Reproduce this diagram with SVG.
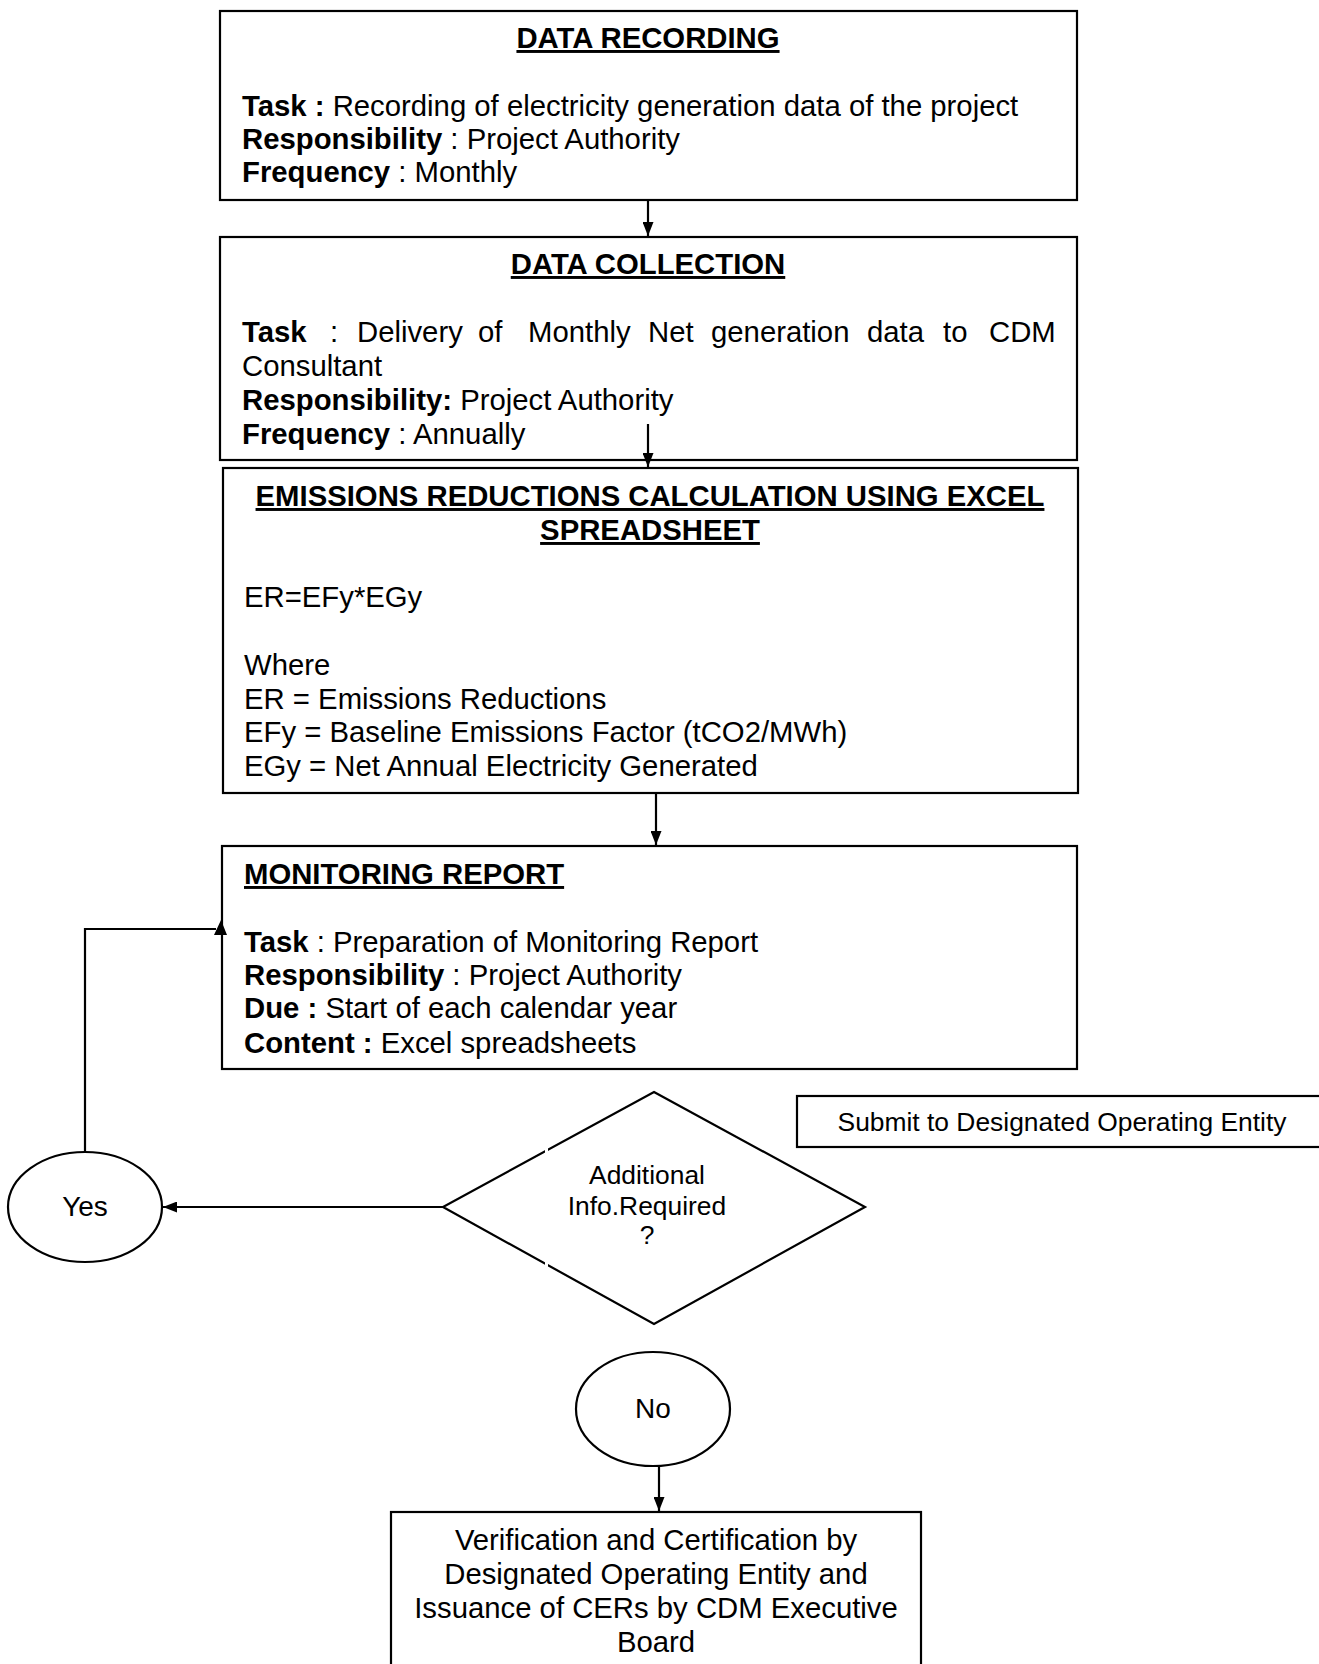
<svg xmlns="http://www.w3.org/2000/svg" width="1319" height="1664" viewBox="0 0 1319 1664">
<style>
  .box{fill:#fff;stroke:#000;stroke-width:2.2}
  .t{font-family:"Liberation Sans",Arial,sans-serif;font-size:29.3px;fill:#000}
  .s{font-family:"Liberation Sans",Arial,sans-serif;font-size:26.4px;fill:#000}
  .o{font-family:"Liberation Sans",Arial,sans-serif;font-size:28px;fill:#000}
  .b{font-weight:bold}
  .u{text-decoration:underline}
  .c{text-anchor:middle}
  .ln{fill:none;stroke:#000;stroke-width:2.2}
</style>
<defs>
  <marker id="ah" viewBox="0 0 10 10" refX="10" refY="5" markerWidth="14" markerHeight="11" orient="auto" markerUnits="userSpaceOnUse" preserveAspectRatio="none">
    <path d="M0,0 L10,5 L0,10 z" fill="#000"/>
  </marker>
</defs>
<rect width="1319" height="1664" fill="#fff"/>

<g id="node-recording">
  <rect class="box" x="220" y="11" width="857" height="189"/>
  <text class="t b u c" x="648" y="48">DATA RECORDING</text>
  <text class="t" x="242" y="116"><tspan class="b">Task :</tspan> Recording of electricity generation data of the project</text>
  <text class="t" x="242" y="149"><tspan class="b">Responsibility</tspan> : Project Authority</text>
  <text class="t" x="242" y="182"><tspan class="b">Frequency</tspan> : Monthly</text>
</g>

<g id="node-collection">
  <rect class="box" x="220" y="237" width="857" height="223"/>
  <text class="t b u c" x="648" y="274">DATA COLLECTION</text>
  <text class="t" y="342"><tspan class="b" x="242">Task</tspan><tspan x="330">:</tspan><tspan x="357">Delivery</tspan><tspan x="478">of</tspan><tspan x="528">Monthly</tspan><tspan x="648">Net</tspan><tspan x="711">generation</tspan><tspan x="867">data</tspan><tspan x="943">to</tspan><tspan x="989">CDM</tspan></text>
  <text class="t" x="242" y="376">Consultant</text>
  <text class="t" x="242" y="410"><tspan class="b">Responsibility:</tspan> Project Authority</text>
  <text class="t" x="242" y="444"><tspan class="b">Frequency</tspan> : Annually</text>
</g>

<g id="node-calculation">
  <rect class="box" x="223" y="468" width="855" height="325"/>
  <text class="t b u c" x="650" y="506">EMISSIONS REDUCTIONS CALCULATION USING EXCEL</text>
  <text class="t b u c" x="650" y="540">SPREADSHEET</text>
  <text class="t" x="244" y="607">ER=EFy*EGy</text>
  <text class="t" x="244" y="675">Where</text>
  <text class="t" x="244" y="709">ER = Emissions Reductions</text>
  <text class="t" x="244" y="742">EFy = Baseline Emissions Factor (tCO2/MWh)</text>
  <text class="t" x="244" y="776">EGy = Net Annual Electricity Generated</text>
</g>

<g id="node-report">
  <rect class="box" x="222" y="846" width="855" height="223"/>
  <text class="t b u" x="244" y="884">MONITORING REPORT</text>
  <text class="t" x="244" y="952"><tspan class="b">Task</tspan> : Preparation of Monitoring Report</text>
  <text class="t" x="244" y="985"><tspan class="b">Responsibility</tspan> : Project Authority</text>
  <text class="t" x="244" y="1018"><tspan class="b">Due :</tspan> Start of each calendar year</text>
  <text class="t" x="244" y="1053"><tspan class="b">Content :</tspan> Excel spreadsheets</text>
</g>

<g id="node-submit">
  <rect class="box" x="797" y="1096" width="540" height="51"/>
  <text class="s c" x="1062" y="1131">Submit to Designated Operating Entity</text>
</g>

<g id="node-decision">
  <polygon class="box" points="654,1092 865,1207 654,1324 443,1207"/>
  <rect x="545" y="1143" width="3" height="10" fill="#fff"/>
  <rect x="545" y="1260" width="3" height="10" fill="#fff"/>
  <text class="s c" x="647" y="1184">Additional</text>
  <text class="s c" x="647" y="1215">Info.Required</text>
  <text class="s c" x="647" y="1244">?</text>
</g>

<g id="node-yes">
  <ellipse class="box" cx="85" cy="1207" rx="77" ry="55"/>
  <text class="o c" x="85" y="1216">Yes</text>
</g>

<g id="node-no">
  <ellipse class="box" cx="653" cy="1409" rx="77" ry="57"/>
  <text class="o c" x="653" y="1418">No</text>
</g>

<g id="node-verification">
  <rect class="box" x="391" y="1512" width="530" height="170"/>
  <text class="t c" x="656" y="1550">Verification and Certification by</text>
  <text class="t c" x="656" y="1584">Designated Operating Entity and</text>
  <text class="t c" x="656" y="1618">Issuance of CERs by CDM Executive</text>
  <text class="t c" x="656" y="1652">Board</text>
</g>

<g id="connectors">
  <line class="ln" x1="648" y1="200" x2="648" y2="236" marker-end="url(#ah)"/>
  <line class="ln" x1="648" y1="424" x2="648" y2="467" marker-end="url(#ah)"/>
  <line class="ln" x1="656" y1="793" x2="656" y2="845" marker-end="url(#ah)"/>
  <line class="ln" x1="443" y1="1207" x2="163" y2="1207" marker-end="url(#ah)"/>
  <polyline class="ln" points="85,1152 85,929 216,929"/>
  <polygon points="221,920 227,935 214,935" fill="#000"/>
  <line class="ln" x1="659" y1="1466" x2="659" y2="1511" marker-end="url(#ah)"/>
</g>
</svg>
